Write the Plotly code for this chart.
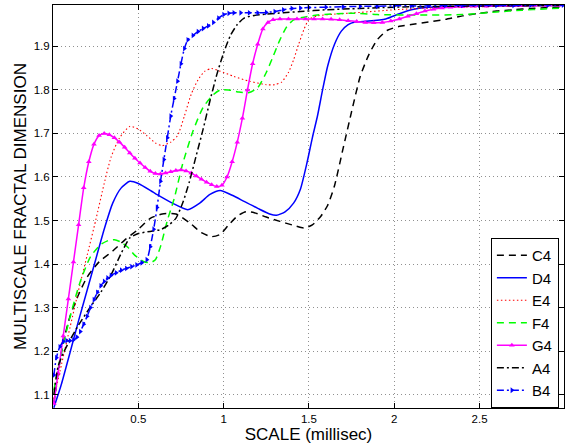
import plotly.graph_objects as go

# ---------------- data ----------------
c4_x = [0.005, 0.03, 0.06, 0.1, 0.15, 0.2, 0.27, 0.35, 0.42, 0.5, 0.57, 0.64, 0.72, 0.8, 0.87, 0.93, 0.98, 1.03, 1.08, 1.13,
        1.18, 1.25, 1.33, 1.40, 1.47, 1.52, 1.57, 1.61, 1.65, 1.70, 1.75, 1.80, 1.85, 1.90, 1.96, 2.03, 2.1, 2.2, 2.3, 2.4,
        2.5, 2.6, 2.7, 2.8, 2.9, 2.99]
c4_y = [1.08, 1.15, 1.22, 1.28, 1.33, 1.37, 1.405, 1.43, 1.455, 1.48, 1.505, 1.515, 1.515, 1.495, 1.472, 1.463, 1.468, 1.49, 1.51, 1.52,
        1.518, 1.508, 1.498, 1.49, 1.483, 1.49, 1.51, 1.535, 1.58, 1.665, 1.75, 1.83, 1.88, 1.915, 1.937, 1.946, 1.95, 1.956, 1.962, 1.97,
        1.976, 1.981, 1.984, 1.987, 1.989, 1.99]

d4_x = [0.005, 0.05, 0.1, 0.15, 0.2, 0.25, 0.3, 0.35, 0.4, 0.45, 0.5, 0.6, 0.7, 0.79, 0.86, 0.92, 0.98, 1.05, 1.12, 1.2,
        1.27, 1.31, 1.36, 1.41, 1.45, 1.49, 1.52, 1.55, 1.58, 1.61, 1.65, 1.69, 1.73, 1.77, 1.85, 1.95, 2.03, 2.1, 2.2, 2.4,
        2.6, 2.8, 2.99]
d4_y = [1.07, 1.125, 1.197, 1.27, 1.34, 1.41, 1.48, 1.54, 1.575, 1.59, 1.585, 1.562, 1.54, 1.525, 1.54, 1.56, 1.569, 1.558, 1.544, 1.528,
        1.515, 1.512, 1.52, 1.54, 1.572, 1.635, 1.69, 1.74, 1.80, 1.855, 1.905, 1.935, 1.95, 1.956, 1.958, 1.963, 1.975, 1.984, 1.99, 1.992,
        1.993, 1.994, 1.994]

e4_x = [0.005, 0.05, 0.1, 0.15, 0.2, 0.25, 0.3, 0.34, 0.39, 0.45, 0.5, 0.55, 0.6, 0.64, 0.69, 0.73, 0.77, 0.81, 0.85, 0.89,
        0.93, 0.98, 1.06, 1.15, 1.25, 1.3, 1.34, 1.38, 1.41, 1.44, 1.47, 1.5, 1.55, 1.65, 1.8, 2.0, 2.2, 2.5, 2.8, 2.99]
e4_y = [1.09, 1.17, 1.255, 1.34, 1.42, 1.50, 1.585, 1.645, 1.69, 1.716, 1.71, 1.695, 1.678, 1.672, 1.68, 1.695, 1.74, 1.79, 1.823, 1.843,
        1.849, 1.843, 1.831, 1.82, 1.812, 1.812, 1.818, 1.84, 1.869, 1.905, 1.938, 1.962, 1.97, 1.974, 1.978, 1.984, 1.988, 1.991, 1.993, 1.994]

f4_x = [0.005, 0.04, 0.1, 0.16, 0.22, 0.28, 0.33, 0.36, 0.4, 0.44, 0.48, 0.53, 0.57, 0.6, 0.63, 0.67, 0.71, 0.76, 0.82, 0.88,
        0.94, 0.98, 1.03, 1.09, 1.15, 1.2, 1.25, 1.29, 1.33, 1.37, 1.41, 1.47, 1.55, 1.75, 1.9, 2.15, 2.4, 2.6, 2.75, 2.88, 2.99]
f4_y = [1.11, 1.18, 1.279, 1.36, 1.417, 1.445, 1.455, 1.456, 1.45, 1.438, 1.42, 1.406, 1.403, 1.41, 1.44, 1.50, 1.55, 1.63, 1.705, 1.76,
        1.789, 1.80, 1.80, 1.795, 1.794, 1.805, 1.84, 1.877, 1.915, 1.945, 1.961, 1.967, 1.972, 1.976, 1.973, 1.972, 1.973, 1.979, 1.983, 1.986, 1.988]

g4_x = [0.005, 0.03, 0.06, 0.09, 0.12, 0.15, 0.18, 0.21, 0.24, 0.27, 0.3, 0.33, 0.36, 0.39, 0.42, 0.45, 0.48, 0.51, 0.54, 0.57,
        0.6, 0.63, 0.66, 0.69, 0.72, 0.75, 0.78, 0.81, 0.84, 0.87, 0.9, 0.93, 0.96, 0.99, 1.02, 1.05, 1.08, 1.11, 1.14, 1.17,
        1.2, 1.23, 1.26, 1.29, 1.33, 1.38, 1.43, 1.48, 1.53, 1.58, 1.63, 1.68, 1.73, 1.78, 1.83, 1.88, 1.93, 1.98, 2.03, 2.08,
        2.13, 2.18, 2.23, 2.28, 2.33, 2.4, 2.47, 2.54, 2.61, 2.68, 2.75, 2.82, 2.89, 2.96]
g4_y = [1.08, 1.15, 1.235, 1.32, 1.405, 1.49, 1.575, 1.635, 1.675, 1.695, 1.70, 1.697, 1.69, 1.68, 1.668, 1.655, 1.643, 1.632, 1.622, 1.613,
        1.608, 1.607, 1.609, 1.612, 1.615, 1.616, 1.614, 1.609, 1.602, 1.595, 1.588, 1.582, 1.578, 1.581, 1.60, 1.635, 1.68, 1.735, 1.80, 1.86,
        1.905, 1.94, 1.955, 1.961, 1.963, 1.963, 1.963, 1.963, 1.963, 1.963, 1.962, 1.961, 1.959, 1.957, 1.955, 1.954, 1.955, 1.958, 1.963, 1.969,
        1.975, 1.981, 1.985, 1.988, 1.99, 1.991, 1.992, 1.992, 1.993, 1.993, 1.993, 1.994, 1.994, 1.994]

a4_x = [0.005, 0.03, 0.06, 0.1, 0.15, 0.22, 0.28, 0.34, 0.4, 0.45, 0.5, 0.57, 0.63, 0.68, 0.72, 0.76, 0.8, 0.84, 0.88, 0.92,
        0.96, 1.0, 1.04, 1.08, 1.12, 1.18, 1.25, 1.35, 1.45, 1.6, 1.8, 2.0, 2.3, 2.6, 2.99]
a4_y = [1.10, 1.165, 1.195, 1.226, 1.26, 1.302, 1.335, 1.375, 1.425, 1.46, 1.47, 1.475, 1.479, 1.49, 1.505, 1.54, 1.59, 1.65, 1.71, 1.775,
        1.835, 1.885, 1.925, 1.95, 1.965, 1.971, 1.974, 1.977, 1.98, 1.984, 1.987, 1.99, 1.992, 1.993, 1.994]

b4_x = [0.005, 0.02, 0.04, 0.06, 0.08, 0.1, 0.12, 0.14, 0.16, 0.18, 0.2, 0.22, 0.24, 0.26, 0.28, 0.3, 0.32, 0.34, 0.37, 0.4,
        0.43, 0.46, 0.49, 0.52, 0.55, 0.57, 0.59, 0.61, 0.63, 0.65, 0.67, 0.69, 0.71, 0.73, 0.75, 0.77, 0.79, 0.82, 0.85, 0.88,
        0.91, 0.94, 0.97, 1.0, 1.03, 1.06, 1.1, 1.15, 1.2, 1.25, 1.3, 1.35, 1.4, 1.45, 1.5, 1.6, 1.7, 1.8, 1.9, 2.0,
        2.1, 2.2, 2.3, 2.4, 2.5, 2.6, 2.7, 2.8, 2.9, 2.99]
b4_y = [1.145, 1.185, 1.21, 1.222, 1.224, 1.224, 1.226, 1.232, 1.245, 1.262, 1.28, 1.30, 1.318, 1.335, 1.35, 1.36, 1.368, 1.374, 1.38, 1.386,
        1.39, 1.394, 1.398, 1.403, 1.41, 1.44, 1.48, 1.53, 1.59, 1.64, 1.69, 1.74, 1.78, 1.82, 1.86, 1.895, 1.915, 1.925, 1.934, 1.941,
        1.947, 1.955, 1.965, 1.973, 1.976, 1.977, 1.977, 1.977, 1.977, 1.978, 1.98, 1.984, 1.987, 1.988, 1.989, 1.99, 1.991, 1.992, 1.992, 1.993,
        1.993, 1.993, 1.994, 1.994, 1.994, 1.994, 1.994, 1.995, 1.995, 1.995]

x_ticks = [0.5, 1, 1.5, 2, 2.5]
x_tick_labels = ["0.5", "1", "1.5", "2", "2.5"]
y_ticks = [1.1, 1.2, 1.3, 1.4, 1.5, 1.6, 1.7, 1.8, 1.9]
y_tick_labels = ["1.1", "1.2", "1.3", "1.4", "1.5", "1.6", "1.7", "1.8", "1.9"]

# ---------------- figure ----------------
FONT = "Liberation Sans, Arial, Helvetica, sans-serif"
fig = go.Figure()

def add(name, xs, ys, color, dash, width=1.5, marker=None):
    kw = dict(x=xs, y=ys, name=name,
              line=dict(color=color, dash=dash, width=width, shape="spline", smoothing=0.6))
    if marker:
        kw["mode"] = "lines+markers"
        kw["marker"] = dict(symbol=marker, size=5, color=color, line=dict(width=0))
    else:
        kw["mode"] = "lines"
    fig.add_trace(go.Scatter(**kw))

add("C4", c4_x, c4_y, "black", "7px,5px")
add("D4", d4_x, d4_y, "#0000ff", "solid")
add("E4", e4_x, e4_y, "#ff0000", "1.5px,2.5px", width=1.1)
add("F4", f4_x, f4_y, "#00ff00", "7px,5px")
add("G4", g4_x, g4_y, "#ff00ff", "solid", marker="triangle-up")
add("A4", a4_x, a4_y, "black", "7px,3px,2px,3px")
add("B4", b4_x, b4_y, "#0000ff", "7px,3px,2px,3px", marker="triangle-right")

axis_common = dict(
    showline=True, linecolor="black", linewidth=1, mirror="ticks",
    ticks="inside", ticklen=5, tickcolor="black", tickwidth=1,
    showgrid=True, gridcolor="#909090", griddash="1px,3px", gridwidth=1,
    zeroline=False, automargin=False,
    tickfont=dict(family=FONT, size=11.5, color="black"),
)

fig.update_xaxes(range=[0, 2.995], tickvals=x_ticks, ticktext=x_tick_labels,
                 title=dict(text="SCALE (millisec)", font=dict(family=FONT, size=17), standoff=4),
                 **axis_common)
fig.update_yaxes(range=[1.0694, 1.995], tickvals=y_ticks, ticktext=y_tick_labels,
                 title=dict(text="MULTISCALE FRACTAL DIMENSION", font=dict(family=FONT, size=17), standoff=2),
                 **axis_common)

fig.update_layout(
    width=565, height=446,
    margin=dict(l=53, r=1, t=5, b=38),
    plot_bgcolor="white", paper_bgcolor="white",
    font=dict(family=FONT, color="black"),
    legend=dict(x=0.990, y=0.0, xanchor="right", yanchor="bottom",
                bgcolor="white", bordercolor="black", borderwidth=1,
                font=dict(family=FONT, size=15, color="black"),
                tracegroupgap=0),
)

fig.write_html("out.html", config={"displayModeBar": False},
               post_script="document.body.style.margin='0';document.body.style.padding='0';")
